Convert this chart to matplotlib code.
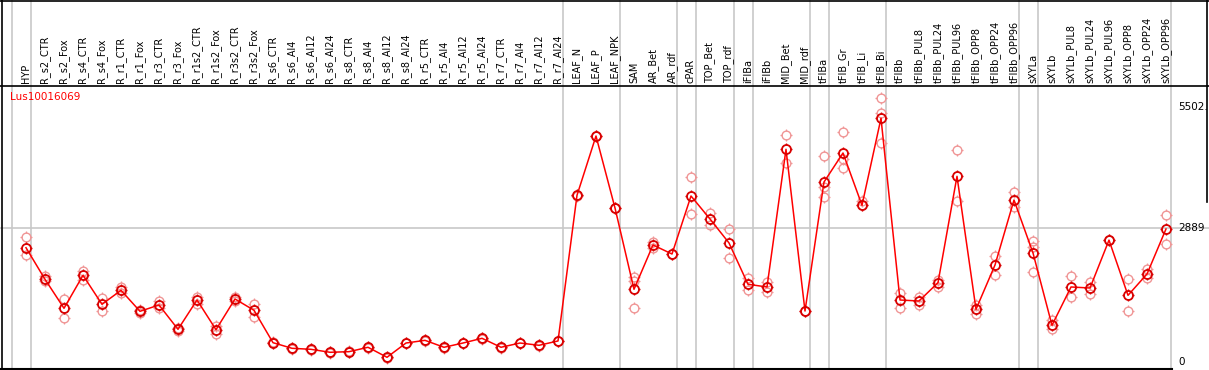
import numpy as np
import matplotlib
matplotlib.use("Agg")
import matplotlib.pyplot as plt
from matplotlib.path import Path
from matplotlib.lines import Line2D
import matplotlib.transforms as mtrans

series_name = "Lus10016069"

labels = ["HYP", "R_s2_CTR", "R_s2_Fox", "R_s4_CTR", "R_s4_Fox", "R_r1_CTR", "R_r1_Fox",
          "R_r3_CTR", "R_r3_Fox", "R_r1s2_CTR", "R_r1s2_Fox", "R_r3s2_CTR", "R_r3s2_Fox",
          "R_s6_CTR", "R_s6_Al4", "R_s6_Al12", "R_s6_Al24", "R_s8_CTR", "R_s8_Al4",
          "R_s8_Al12", "R_s8_Al24", "R_r5_CTR", "R_r5_Al4", "R_r5_Al12", "R_r5_Al24",
          "R_r7_CTR", "R_r7_Al4", "R_r7_Al12", "R_r7_Al24", "LEAF_N", "LEAF_P", "LEAF_NPK",
          "SAM", "AR_Bet", "AR_rdf", "cPAR", "TOP_Bet", "TOP_rdf", "iFIBa", "iFIBb",
          "MID_Bet", "MID_rdf", "tFIBa", "tFIB_Gr", "tFIB_Li", "tFIB_Bi", "tFIBb",
          "tFIBb_PUL8", "tFIBb_PUL24", "tFIBb_PUL96", "tFIBb_OPP8", "tFIBb_OPP24",
          "tFIBb_OPP96", "sXYLa", "sXYLb", "sXYLb_PUL8", "sXYLb_PUL24", "sXYLb_PUL96",
          "sXYLb_OPP8", "sXYLb_OPP24", "sXYLb_OPP96"]

means = [2470, 1788, 1162, 1874, 1248, 1550, 1097, 1233, 708, 1341, 700, 1363, 1119,
         419, 298, 276, 212, 225, 320, 104, 412, 470, 320, 412, 514, 320, 412, 363, 456,
         3602, 4882, 3328, 1572, 2529, 2334, 3587, 3090, 2573, 1680, 1622, 4595, 1103,
         3889, 4515, 3386, 5265, 1341, 1319, 1715, 4012, 1140, 2097, 3500, 2356, 795,
         1622, 1600, 2634, 1442, 1902, 2874]

rep1 = [2701, 1853, 1356, 1967, 1384, 1615, 1119, 1326, 736, 1399, 773, 1412, 1248,
        425, 305, 282, 218, 231, 326, 110, 418, 476, 326, 418, 520, 326, 418, 369, 462,
        3610, 4890, 3335, 1831, 2600, 2340, 3991, 3227, 2867, 1810, 1723, 4897, 1110,
        4450, 4969, 3479, 5696, 1499, 1412, 1773, 4574, 1233, 2291, 3673, 2615, 909,
        1859, 1730, 2640, 1788, 2004, 3170]

rep2 = [2313, 1751, 946, 1773, 1097, 1492, 1054, 1168, 678, 1255, 600, 1326, 974,
        413, 291, 270, 206, 219, 314, 98, 406, 464, 314, 406, 508, 314, 406, 357, 450,
        3595, 4875, 3320, 1162, 2471, 2328, 3192, 2954, 2248, 1557, 1507, 4293, 1096,
        3558, 4185, 3386, 4725, 1175, 1226, 1629, 3472, 1032, 1874, 3343, 1946, 708,
        1399, 1471, 2628, 1103, 1810, 2544]

rep3 = [None] * 61
rep3[32] = 1758
rep3[42] = 3788
rep3[43] = 4386
rep3[45] = 5372
rep3[53] = 2492

group_bounds = [-1, 0, 28, 31, 34, 35, 37, 38, 41, 42, 45, 52, 53, 60]
y_marks = [5502, 2889, 0]
y_mark_text = ["5502.", "2889", "0"]

W, H = 1209, 370
fig = plt.figure(figsize=(W / 100, H / 100), dpi=100)

# pixel geometry
x0_px, step_px = 26.0, 19.0
top_px, bot_px = 86.0, 369.0
zero_px, v_scale = 362.1, 0.04631

xlim = ((0 - x0_px) / step_px, (W - x0_px) / step_px)
ylim = ((zero_px - bot_px) / v_scale, (zero_px - top_px) / v_scale)

ax = fig.add_axes([0, 1 - bot_px / H, 1, (bot_px - top_px) / H])
ax.set_xlim(*xlim)
ax.set_ylim(*ylim)
ax.axis("off")

# header axes (labels area)
hax = fig.add_axes([0, 1 - top_px / H, 1, top_px / H])
hax.set_xlim(*xlim)
hax.set_ylim(0, 1)
hax.axis("off")

grid_c = "#c8c8c8"
for b in group_bounds:
    xb = b + 0.25
    ax.axvline(xb, color=grid_c, lw=1.2, zorder=1)
    if b >= 28:
        hax.axvline(xb, color=grid_c, lw=1.2, zorder=1)
    elif b in (-1, 0):
        hax.axvline(xb, color=grid_c, lw=1.2, zorder=1)

ax.axhline(2889, color=grid_c, lw=1.2, zorder=1)

# labels
x = np.arange(len(labels))
for xi, lab in zip(x, labels):
    hax.text(xi, 0.03, lab, rotation=90, ha="center", va="bottom",
             fontsize=7, family="DejaVu Sans", color="black")

# right value labels
trans = mtrans.blended_transform_factory(fig.transFigure, ax.transData)
for v, t in zip(y_marks, y_mark_text):
    ax.text(1178 / W, v, t, transform=trans, ha="left", va="center",
            fontsize=7.5, color="black")

# series name
fig.text(10 / W, 1 - 97 / H, series_name, color="red", fontsize=7.5,
         ha="left", va="center")

# tick-decorated marker
tick_path = Path([(0, 0.62), (0, 1), (0, -0.62), (0, -1),
                  (0.62, 0), (1, 0), (-0.62, 0), (-1, 0)],
                 [Path.MOVETO, Path.LINETO] * 4)

rep_c = "#f09696"
reps_x, reps_y = [], []
for i in range(len(labels)):
    for r in (rep1, rep2, rep3):
        if r[i] is not None:
            reps_x.append(i)
            reps_y.append(r[i])
ax.plot(reps_x, reps_y, ls="none", marker="o", ms=6.3, mfc="none", mec=rep_c,
        mew=1.0, zorder=2)
ax.plot(reps_x, reps_y, ls="none", marker=tick_path, ms=9.0, mec=rep_c,
        mew=0.9, zorder=2)

ax.plot(x, means, color="#ff0000", lw=1.1, zorder=3)
ax.plot(x, means, ls="none", marker="o", ms=6.5, mfc="none", mec="#d80000",
        mew=1.3, zorder=4)
ax.plot(x, means, ls="none", marker=tick_path, ms=9.2, mec="#d80000",
        mew=1.0, zorder=4)

# borders
bax = fig.add_axes([0, 0, 1, 1])
bax.set_xlim(0, W)
bax.set_ylim(H, 0)
bax.axis("off")
bax.patch.set_alpha(0)
bax.plot([0, W], [0.5, 0.5], color="black", lw=1.2)
bax.plot([0, W], [85.5, 85.5], color="black", lw=1.2)
bax.plot([1.5, 1.5], [0, H], color="black", lw=1.2)
bax.plot([1207.3, 1207.3], [0, 202], color="black", lw=1.2)
bax.plot([0, 1172], [369, 369], color="black", lw=1.5)

fig.savefig("out.png", dpi=100)
